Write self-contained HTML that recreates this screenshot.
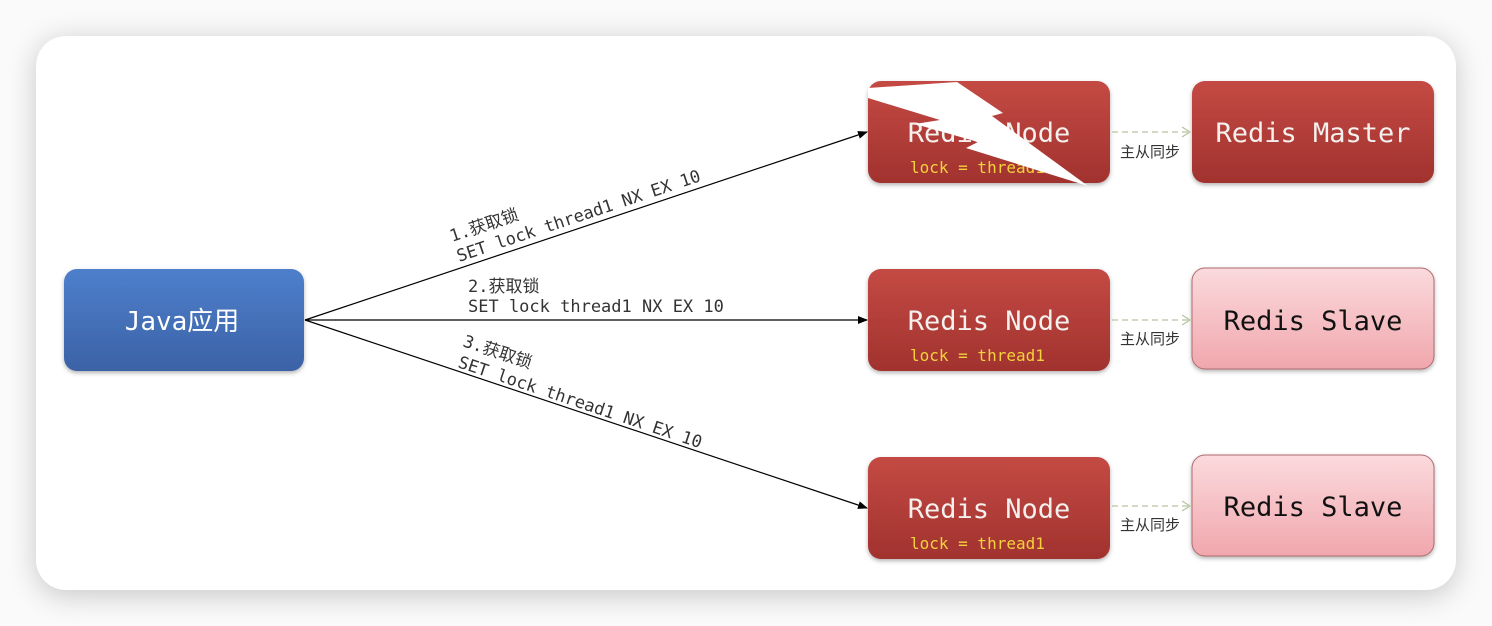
<!DOCTYPE html>
<html><head><meta charset="utf-8"><style>
html,body{margin:0;padding:0;background:#fff;}
svg{display:block}
</style></head><body>
<svg width="1492" height="626" viewBox="0 0 1492 626" xmlns="http://www.w3.org/2000/svg">
<defs>
<filter id="sh" x="-10%" y="-10%" width="120%" height="120%"><feGaussianBlur stdDeviation="14"/></filter>
<filter id="bs" x="-10%" y="-10%" width="130%" height="140%"><feDropShadow dx="0" dy="2" stdDeviation="2" flood-color="#000" flood-opacity="0.3"/></filter>
<linearGradient id="red" x1="0" y1="0" x2="0" y2="1"><stop offset="0" stop-color="#c44a44"/><stop offset="1" stop-color="#a1322e"/></linearGradient>
<linearGradient id="blue" x1="0" y1="0" x2="0" y2="1"><stop offset="0" stop-color="#4e7fcb"/><stop offset="1" stop-color="#3b62a6"/></linearGradient>
<linearGradient id="pink" x1="0" y1="0" x2="0" y2="1"><stop offset="0" stop-color="#fbdadd"/><stop offset="1" stop-color="#f0a7ad"/></linearGradient>
<marker id="ar" markerWidth="10" markerHeight="8" refX="9" refY="4" orient="auto" markerUnits="userSpaceOnUse"><path d="M0,0 L10,4 L0,8 Z" fill="#000"/></marker>
<marker id="oa" markerWidth="10" markerHeight="12" refX="9" refY="6" orient="auto" markerUnits="userSpaceOnUse"><path d="M1,1 L9,6 L1,11" fill="none" stroke="#b8c4a0" stroke-width="1.3"/></marker>
</defs>
<rect width="1492" height="626" fill="#fafafa"/>
<rect x="36" y="40" width="1420" height="556" rx="30" fill="#c8c8c8" filter="url(#sh)"/>
<rect x="36" y="36" width="1420" height="554" rx="30" fill="#fff"/>

<g font-family="DejaVu Sans Mono, Noto Sans CJK SC, monospace">
<line x1="305" y1="320" x2="867" y2="132" stroke="#000" stroke-width="1.2" marker-end="url(#ar)"/>
<line x1="305" y1="320" x2="867" y2="320" stroke="#000" stroke-width="1.2" marker-end="url(#ar)"/>
<line x1="305" y1="320" x2="867" y2="508" stroke="#000" stroke-width="1.2" marker-end="url(#ar)"/>

<g fill="#333" font-size="17">
<text transform="translate(452,242) rotate(-18.5)">1.获取锁</text>
<text transform="translate(459,262) rotate(-18.5)">SET lock thread1 NX EX 10</text>
<text x="468" y="292">2.获取锁</text>
<text x="468" y="312">SET lock thread1 NX EX 10</text>
<text transform="translate(462,346) rotate(18.5)">3.获取锁</text>
<text transform="translate(457,367) rotate(18.5)">SET lock thread1 NX EX 10</text>
</g>

<rect x="64" y="269" width="240" height="102" rx="13" fill="url(#blue)" filter="url(#bs)"/>
<text x="182" y="330" text-anchor="middle" fill="#fff" font-size="26">Java应用</text>

<g filter="url(#bs)">
<rect x="868" y="81" width="242" height="102" rx="13" fill="url(#red)"/>
<rect x="868" y="269" width="242" height="102" rx="13" fill="url(#red)"/>
<rect x="868" y="457" width="242" height="102" rx="13" fill="url(#red)"/>
<rect x="1192" y="81" width="242" height="102" rx="13" fill="url(#red)"/>
<rect x="1192" y="268" width="242" height="101" rx="13" fill="url(#pink)" stroke="#b06a6e" stroke-width="1"/>
<rect x="1192" y="455" width="242" height="101" rx="13" fill="url(#pink)" stroke="#b06a6e" stroke-width="1"/>
</g>
<g fill="#f4f0ee" font-size="27" text-anchor="middle">
<text x="989" y="142">Redis Node</text>
<text x="989" y="330">Redis Node</text>
<text x="989" y="518">Redis Node</text>
<text x="1313" y="142">Redis Master</text>
</g>
<g fill="#111" font-size="27" text-anchor="middle">
<text x="1313" y="330">Redis Slave</text>
<text x="1313" y="516">Redis Slave</text>
</g>
<g fill="#f4d23c" font-size="16">
<text x="910" y="173">lock = thread1</text>
<text x="910" y="361">lock = thread1</text>
<text x="910" y="549">lock = thread1</text>
</g>

<polygon points="868,88 957,82 1003,113 992,116 1088,186 966,148 978,142 915,124 940,120 868,98" fill="#fff"/>

<g stroke="#b8c4a0" stroke-width="1.3" stroke-dasharray="6,4" fill="none">
<line x1="1112" y1="132" x2="1190" y2="132" marker-end="url(#oa)"/>
<line x1="1112" y1="320" x2="1190" y2="320" marker-end="url(#oa)"/>
<line x1="1112" y1="506" x2="1190" y2="506" marker-end="url(#oa)"/>
</g>
<g fill="#333" font-size="15" font-family="Noto Sans CJK SC, sans-serif">
<text x="1120" y="157">主从同步</text>
<text x="1120" y="344">主从同步</text>
<text x="1120" y="530">主从同步</text>
</g>
</g>
</svg>
</body></html>
